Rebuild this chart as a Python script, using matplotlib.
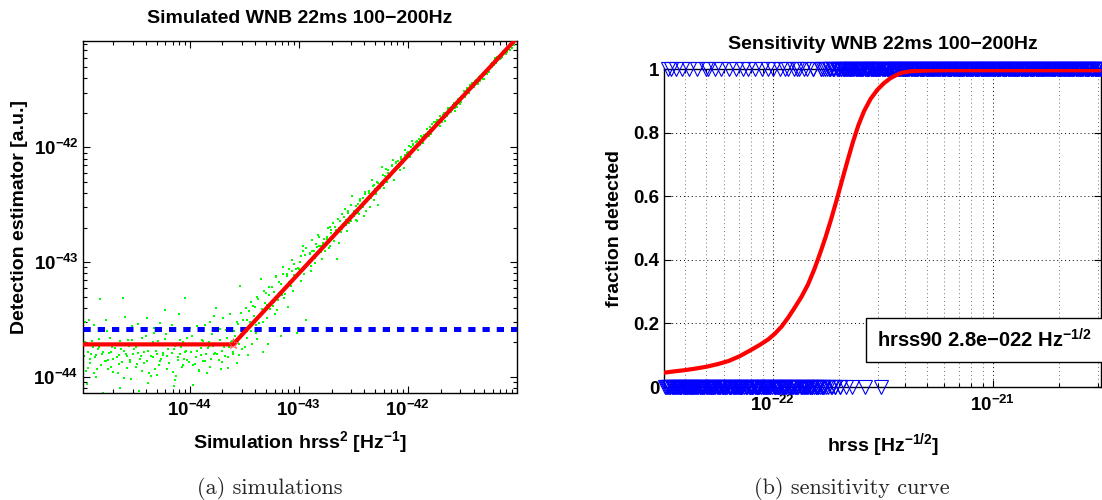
import numpy as np
import matplotlib
matplotlib.use("Agg")
import matplotlib.pyplot as plt
from matplotlib.patches import Rectangle
from matplotlib.ticker import LogLocator, NullFormatter

plt.rcParams['font.family'] = ['Liberation Sans', 'DejaVu Sans']
plt.rcParams['font.weight'] = 'bold'
plt.rcParams['axes.labelweight'] = 'bold'
plt.rcParams['mathtext.fontset'] = 'custom'
plt.rcParams['mathtext.rm'] = 'Liberation Sans:bold'
plt.rcParams['mathtext.it'] = 'Liberation Sans:bold'
plt.rcParams['mathtext.bf'] = 'Liberation Sans:bold'
plt.rcParams['mathtext.default'] = 'rm'

# simulations (log10 hrss^2, log10 estimator)
log_h2 = [
    -44.97, -44.96, -44.95, -44.93, -44.92, -44.91, -44.89, -44.88, -44.87, -44.86, -44.84, -44.83, -44.82, -44.81, -44.80, -44.79, -44.78, -44.77, -44.76, -44.75,
    -44.74, -44.73, -44.72, -44.70, -44.69, -44.68, -44.66, -44.65, -44.64, -44.62, -44.61, -44.60, -44.59, -44.57, -44.56, -44.55, -44.54, -44.53, -44.52, -44.51,
    -44.49, -44.48, -44.47, -44.45, -44.44, -44.43, -44.42, -44.40, -44.39, -44.38, -44.36, -44.35, -44.34, -44.33, -44.31, -44.30, -44.29, -44.28, -44.27, -44.26,
    -44.24, -44.23, -44.21, -44.20, -44.19, -44.18, -44.16, -44.15, -44.14, -44.13, -44.11, -44.10, -44.09, -44.07, -44.06, -44.05, -44.04, -44.03, -44.02, -44.01,
    -43.99, -43.98, -43.97, -43.95, -43.94, -43.93, -43.91, -43.90, -43.89, -43.88, -43.86, -43.85, -43.84, -43.82, -43.81, -43.80, -43.79, -43.78, -43.77, -43.76,
    -43.74, -43.73, -43.72, -43.70, -43.69, -43.68, -43.66, -43.65, -43.64, -43.63, -43.61, -43.60, -43.59, -43.57, -43.56, -43.55, -43.54, -43.53, -43.52, -43.51,
    -43.49, -43.48, -43.47, -43.45, -43.44, -43.43, -43.41, -43.40, -43.39, -43.38, -43.36, -43.35, -43.34, -43.33, -43.31, -43.30, -43.29, -43.28, -43.27, -43.26,
    -43.24, -43.23, -43.21, -43.20, -43.19, -43.18, -43.16, -43.15, -43.14, -43.13, -43.11, -43.10, -43.09, -43.07, -43.06, -43.05, -43.04, -43.03, -43.02, -43.01,
    -42.99, -42.98, -42.96, -42.95, -42.94, -42.93, -42.91, -42.90, -42.89, -42.88, -42.86, -42.85, -42.84, -42.82, -42.81, -42.80, -42.79, -42.78, -42.77, -42.76,
    -42.74, -42.73, -42.71, -42.70, -42.69, -42.68, -42.66, -42.65, -42.64, -42.63, -42.61, -42.60, -42.59, -42.57, -42.56, -42.55, -42.54, -42.53, -42.52, -42.51,
    -42.49, -42.48, -42.46, -42.45, -42.44, -42.43, -42.41, -42.40, -42.39, -42.38, -42.36, -42.35, -42.34, -42.32, -42.31, -42.30, -42.29, -42.28, -42.27, -42.26,
    -42.24, -42.23, -42.21, -42.20, -42.19, -42.18, -42.16, -42.15, -42.14, -42.13, -42.11, -42.10, -42.09, -42.07, -42.06, -42.05, -42.04, -42.03, -42.02, -42.01,
    -41.99, -41.98, -41.96, -41.95, -41.94, -41.93, -41.91, -41.90, -41.89, -41.88, -41.86, -41.85, -41.84, -41.82, -41.81, -41.80, -41.79, -41.78, -41.77, -41.76,
    -41.74, -41.73, -41.71, -41.70, -41.69, -41.68, -41.66, -41.65, -41.64, -41.63, -41.61, -41.60, -41.59, -41.57, -41.56, -41.55, -41.54, -41.53, -41.52, -41.51,
    -41.49, -41.48, -41.46, -41.45, -41.44, -41.43, -41.41, -41.40, -41.39, -41.38, -41.36, -41.35, -41.34, -41.32, -41.31, -41.30, -41.29, -41.28, -41.27, -41.26,
    -41.24, -41.23, -41.21, -41.20, -41.19, -41.18, -41.16, -41.15, -41.14, -41.13, -41.11, -41.10, -41.09, -41.07, -41.06, -41.05, -41.04, -41.03, -41.02, -41.01,
    # second pass over the cloud
    -44.975, -44.955, -44.935, -44.915, -44.895, -44.875, -44.855, -44.835, -44.815, -44.795, -44.775, -44.765, -44.945, -44.905, -44.845,
    -44.745, -44.725, -44.705, -44.685, -44.665, -44.645, -44.625, -44.605, -44.585, -44.565, -44.545, -44.525, -44.715, -44.635, -44.575,
    -44.495, -44.475, -44.455, -44.435, -44.415, -44.395, -44.375, -44.355, -44.335, -44.315, -44.295, -44.275, -44.465, -44.385, -44.325,
    -44.245, -44.225, -44.205, -44.185, -44.165, -44.145, -44.125, -44.105, -44.085, -44.065, -44.045, -44.025, -44.215, -44.135, -44.075,
    -43.995, -43.975, -43.955, -43.935, -43.915, -43.895, -43.875, -43.855, -43.835, -43.815, -43.795, -43.775, -43.965, -43.885, -43.825,
    -43.745, -43.725, -43.705, -43.685, -43.665, -43.645, -43.625, -43.605, -43.585, -43.565, -43.545, -43.525, -43.715, -43.635, -43.555,
    -43.495, -43.475, -43.455, -43.435, -43.415, -43.395, -43.375, -43.355, -43.335, -43.315, -43.295, -43.275, -43.465, -43.385, -43.325,
    -43.245, -43.225, -43.205, -43.185, -43.165, -43.145, -43.125, -43.105, -43.085, -43.065, -43.045, -43.025, -43.215, -43.135, -43.075,
    -42.995, -42.975, -42.955, -42.935, -42.915, -42.895, -42.875, -42.855, -42.835, -42.815, -42.795, -42.775, -42.965, -42.885, -42.825,
    -42.745, -42.725, -42.705, -42.685, -42.665, -42.645, -42.625, -42.605, -42.585, -42.565, -42.545, -42.525, -42.715, -42.635, -42.575,
    -42.495, -42.475, -42.455, -42.435, -42.415, -42.395, -42.375, -42.355, -42.335, -42.315, -42.295, -42.275, -42.465, -42.385, -42.325,
    -42.245, -42.225, -42.205, -42.185, -42.165, -42.145, -42.125, -42.105, -42.085, -42.065, -42.045, -42.025, -42.215, -42.135, -42.075,
    -41.995, -41.975, -41.955, -41.935, -41.915, -41.895, -41.875, -41.855, -41.835, -41.815, -41.795, -41.775, -41.965, -41.885, -41.825,
    -41.745, -41.725, -41.705, -41.685, -41.665, -41.645, -41.625, -41.605, -41.585, -41.565, -41.545, -41.525, -41.715, -41.635, -41.575,
    -41.495, -41.475, -41.455, -41.435, -41.415, -41.395, -41.375, -41.355, -41.335, -41.315, -41.295, -41.275, -41.465, -41.385, -41.325,
    -41.245, -41.225, -41.205, -41.185, -41.165, -41.145, -41.125, -41.105, -41.085, -41.065, -41.045, -41.025, -41.215, -41.135, -41.075,
]
log_est = [
    -43.82, -43.70, -43.95, -43.78, -43.50, -43.88, -43.74, -43.55, -43.83, -44.00, -43.76, -43.67, -43.32, -43.90, -43.80, -44.14, -43.71, -43.86, -43.60, -43.93,
    -43.79, -43.66, -43.91, -43.84, -43.58, -43.75, -43.97, -43.81, -43.69, -43.87, -43.31, -43.77, -43.48, -43.92, -43.73, -43.85, -44.02, -43.68, -43.80, -43.76,
    -43.74, -43.89, -43.54, -43.82, -43.95, -43.71, -43.78, -43.64, -43.86, -44.05, -43.72, -43.99, -43.83, -43.57, -43.77, -43.98, -43.69, -43.90, -43.53, -43.84,
    -43.81, -43.67, -43.93, -43.76, -43.88, -43.59, -43.79, -43.96, -44.08, -43.73, -43.85, -43.45, -43.80, -43.91, -43.70, -43.84, -43.31, -43.77, -43.66, -43.87,
    -43.78, -43.64, -43.90, -43.72, -43.83, -43.56, -43.94, -43.75, -43.68, -43.86, -43.55, -43.80, -43.97, -43.70, -43.52, -43.84, -43.73, -43.47, -43.79, -43.40,
    -43.71, -43.85, -43.58, -43.77, -43.49, -43.82, -43.66, -43.92, -43.74, -43.45, -43.69, -43.80, -43.60, -43.88, -43.54, -43.71, -43.21, -43.63, -43.76, -43.50,
    -43.58, -43.40, -43.66, -43.52, -43.35, -43.71, -43.47, -43.39, -43.62, -43.30, -43.53, -43.15, -43.44, -43.78, -43.36, -43.27, -43.49, -43.71, -43.22, -43.41,
    -43.38, -43.26, -43.12, -43.42, -43.33, -43.17, -43.64, -43.29, -43.10, -43.28, -43.12, -43.39, -43.06, -43.18, -43.08, -43.25, -43.02, -43.14, -43.62, -43.05,
    -43.00, -43.16, -42.90, -43.05, -42.94, -43.50, -42.99, -42.93, -43.08, -42.90, -42.90, -43.01, -42.84, -42.93, -42.86, -42.86, -42.97, -42.84, -42.80, -42.90,
    -42.80, -42.70, -42.86, -42.75, -42.66, -42.82, -42.72, -42.97, -42.62, -42.70, -42.74, -42.58, -42.67, -42.63, -42.73, -42.55, -42.66, -42.60, -42.50, -42.42,
    -42.55, -42.63, -42.49, -42.58, -42.47, -42.53, -42.44, -42.60, -42.41, -42.48, -42.38, -42.52, -42.43, -42.34, -42.46, -42.36, -42.41, -42.30, -42.50, -42.35,
    -42.17, -42.33, -42.25, -42.19, -42.30, -42.22, -42.26, -42.15, -42.21, -42.28, -42.14, -42.18, -42.12, -42.16, -42.08, -42.13, -42.18, -42.02, -42.10, -42.05,
    -41.99, -42.08, -42.03, -41.98, -42.01, -41.95, -42.02, -41.93, -41.97, -41.90, -41.96, -41.89, -41.92, -41.87, -41.90, -41.82, -41.88, -41.80, -41.85, -41.78,
    -41.80, -41.76, -41.81, -41.74, -41.78, -41.72, -41.77, -41.70, -41.73, -41.66, -41.69, -41.67, -41.63, -41.68, -41.62, -41.65, -41.58, -41.61, -41.57, -41.60,
    -41.51, -41.56, -41.50, -41.49, -41.53, -41.46, -41.48, -41.44, -41.47, -41.41, -41.45, -41.39, -41.42, -41.38, -41.35, -41.40, -41.33, -41.36, -41.31, -41.34,
    -41.27, -41.30, -41.25, -41.22, -41.26, -41.21, -41.23, -41.19, -41.21, -41.16, -41.18, -41.14, -41.17, -41.12, -41.10, -41.13, -41.07, -41.10, -41.05, -41.06,
    # second pass over the cloud
    -43.88, -43.52, -43.92, -43.84, -43.69, -43.97, -43.81, -43.74, -43.90, -43.78, -43.86, -43.50, -44.06, -43.80, -43.93,
    -43.85, -43.78, -43.96, -43.71, -43.83, -43.89, -43.76, -44.01, -43.80, -43.68, -43.87, -43.56, -43.74, -44.10, -43.82,
    -43.91, -43.79, -43.84, -43.66, -43.88, -43.49, -43.97, -43.82, -43.70, -43.93, -43.80, -43.86, -44.12, -43.77, -43.62,
    -43.79, -43.42, -43.82, -43.71, -43.55, -43.76, -43.99, -43.83, -43.68, -43.90, -43.78, -43.85, -43.63, -44.03, -43.74,
    -43.57, -43.72, -43.89, -43.77, -43.95, -43.81, -43.69, -43.86, -43.75, -43.91, -43.63, -43.80, -44.07, -43.58, -43.73,
    -43.80, -43.68, -43.87, -43.74, -43.59, -43.83, -43.70, -43.78, -43.64, -43.52, -43.81, -43.44, -43.93, -43.57, -43.69,
    -43.74, -43.50, -43.43, -43.60, -43.38, -43.55, -43.32, -43.46, -43.41, -43.25, -43.37, -43.29, -43.81, -43.67, -43.52,
    -43.22, -43.35, -43.13, -43.27, -43.19, -43.04, -43.23, -43.10, -43.17, -42.98, -43.11, -43.06, -43.45, -43.31, -43.21,
    -43.06, -42.95, -43.10, -42.88, -43.02, -42.92, -42.81, -42.96, -42.87, -42.78, -42.91, -42.83, -42.86, -43.03, -42.76,
    -42.78, -42.88, -42.72, -42.79, -42.69, -42.75, -42.64, -42.71, -42.61, -42.68, -42.57, -42.64, -42.69, -42.83, -42.54,
    -42.60, -42.51, -42.57, -42.45, -42.52, -42.39, -42.47, -42.40, -42.44, -42.33, -42.39, -42.31, -42.64, -42.55, -42.28,
    -42.31, -42.24, -42.28, -42.20, -42.24, -42.16, -42.20, -42.13, -42.17, -42.10, -42.14, -42.07, -42.35, -42.11, -42.20,
    -42.04, -42.00, -41.97, -42.00, -41.94, -41.96, -41.91, -41.93, -41.88, -41.90, -41.85, -41.86, -41.94, -41.98, -41.84,
    -41.78, -41.79, -41.73, -41.75, -41.70, -41.72, -41.66, -41.69, -41.64, -41.66, -41.60, -41.62, -41.76, -41.67, -41.61,
    -41.55, -41.52, -41.48, -41.50, -41.44, -41.46, -41.41, -41.43, -41.38, -41.40, -41.34, -41.36, -41.53, -41.42, -41.37,
    -41.30, -41.26, -41.24, -41.25, -41.20, -41.22, -41.17, -41.19, -41.14, -41.15, -41.10, -41.11, -41.28, -41.20, -41.12,
]

# broken-line fit and detection threshold (left panel)
fit_h2 = [10**-44.98, 2.5e-44, 1.0e-41]
fit_est = [1.92e-44, 1.92e-44, 9.0e-42]
knee_h2 = 2.5e-44
knee_est = 1.92e-44
threshold = 2.6e-44

# fitted efficiency curve (right panel), log10 hrss vs fraction
curve_loghrss = [-22.494, -22.45, -22.40, -22.35, -22.30, -22.25, -22.20, -22.15, -22.10, -22.06,
                 -22.02, -21.99, -21.96, -21.93, -21.90, -21.87, -21.84, -21.81, -21.785, -21.76,
                 -21.735, -21.71, -21.685, -21.66, -21.635, -21.61, -21.585, -21.555, -21.525, -21.495,
                 -21.465, -21.435, -21.41, -21.37, -21.30, -21.20, -20.508]
curve_frac = [0.045, 0.049, 0.053, 0.058, 0.064, 0.072, 0.082, 0.097, 0.116, 0.132,
              0.150, 0.168, 0.190, 0.218, 0.250, 0.283, 0.322, 0.372, 0.420, 0.471,
              0.527, 0.587, 0.650, 0.712, 0.772, 0.825, 0.868, 0.907, 0.935, 0.956,
              0.972, 0.983, 0.990, 0.994, 0.996, 0.997, 0.997]
hrss90_label = 'hrss90 2.8e\u2212022 Hz$^{-1/2}$'

h2 = 10.0 ** np.array(log_h2)
est = 10.0 ** np.array(log_est)
hrss = np.sqrt(h2)
found = est > threshold

W, H = 1102, 500
fig = plt.figure(figsize=(W / 100, H / 100), dpi=100)

def px_axes(left, right, top, bottom):
    return fig.add_axes([left / W, 1 - bottom / H, (right - left) / W, (bottom - top) / H])

def style(ax):
    for s in ax.spines.values():
        s.set_linewidth(1.0)
    ax.tick_params(which='both', direction='in', top=True, right=True, width=0.8, labelsize=13.5)
    ax.tick_params(which='major', length=5)
    ax.tick_params(which='minor', length=3)

def dec_label(v):
    return r'$10^{%d}$' % int(round(np.log10(v)))

# ---- (a) simulations
ax1 = px_axes(82.7, 517, 40.7, 392.5)
ax1.set_xscale('log')
ax1.set_yscale('log')
ax1.plot(h2, est, 's', color=(0, 1, 0), ms=1.8, mew=0, zorder=2)
ax1.axhline(threshold, color=(0, 0, 1), lw=3.6, dashes=(1.45, 1.4), zorder=3)
ax1.plot(fit_h2, fit_est, color='r', lw=3, zorder=4)
ax1.plot([knee_h2], [knee_est], '*', color=(1, 0.3, 0.3), ms=8, mew=0.6, mfc='none', zorder=5)
ax1.set_xlim(10**-44.98, 10**-41.0)
ax1.set_ylim(10**-44.136, 10**-41.07)
xt = [1e-44, 1e-43, 1e-42]
ax1.set_xticks(xt, [dec_label(v) for v in xt])
ax1.set_yticks(xt, [dec_label(v) for v in xt])
for axis in (ax1.xaxis, ax1.yaxis):
    axis.set_minor_locator(LogLocator(base=10, subs=np.arange(2, 10), numticks=20))
    axis.set_minor_formatter(NullFormatter())
style(ax1)
ax1.tick_params(axis='x', pad=5)
ax1.tick_params(axis='y', pad=3)
ax1.set_xlabel('Simulation hrss$^2$ [Hz$^{-1}$]', fontsize=14)
ax1.set_ylabel('Detection estimator [a.u.]', fontsize=14)
ax1.xaxis.set_label_coords(0.5, -0.105)
ax1.yaxis.set_label_coords(-0.126, 0.5)
ax1.text(0.5, 1.0617, 'Simulated WNB 22ms 100\u2212200Hz', transform=ax1.transAxes,
         ha='center', va='center', fontsize=14)

# ---- (b) sensitivity curve
ax2 = px_axes(664, 1101, 69.3, 387)
ax2.set_xscale('log')
ax2.set_axisbelow(True)
ax2.grid(True, which='major', linestyle=(0, (1, 3)), color='k', lw=0.7)
ax2.grid(True, which='minor', axis='x', linestyle=(0, (1, 3)), color='0.45', lw=0.7)
ax2.plot(hrss[found], np.ones(found.sum()), 'v', color=(0, 0, 1), mfc='none',
         ms=9.5, mew=0.8, clip_on=False, zorder=3)
ax2.plot(hrss[~found], np.zeros((~found).sum()), 'v', color=(0, 0, 1), mfc='none',
         ms=9.5, mew=0.8, clip_on=False, zorder=3)
ax2.plot(10.0 ** np.array(curve_loghrss), curve_frac, color='r', lw=3, zorder=4)
ax2.set_xlim(10**-22.494, 10**-20.508)
ax2.set_ylim(0, 1)
xt2 = [1e-22, 1e-21]
ax2.set_xticks(xt2, [dec_label(v) for v in xt2])
ax2.xaxis.set_minor_locator(LogLocator(base=10, subs=np.arange(2, 10), numticks=20))
ax2.xaxis.set_minor_formatter(NullFormatter())
ax2.set_yticks([0, 0.2, 0.4, 0.6, 0.8, 1], ['0', '0.2', '0.4', '0.6', '0.8', '1'])
style(ax2)
ax2.tick_params(axis='x', pad=6)
ax2.tick_params(axis='y', pad=3.5)
ax2.set_xlabel('hrss [Hz$^{-1/2}$]', fontsize=14)
ax2.set_ylabel('fraction detected', fontsize=14)
ax2.xaxis.set_label_coords(0.5, -0.14)
ax2.yaxis.set_label_coords(-0.094, 0.5)
ax2.text(0.5, 1.0765, 'Sensitivity WNB 22ms 100\u2212200Hz', transform=ax2.transAxes,
         ha='center', va='center', fontsize=14)
box = Rectangle((0.462, 0.080), 0.6, 0.137, transform=ax2.transAxes, fc='white', ec='k',
                lw=1.0, clip_on=False, zorder=5)
ax2.add_patch(box)
ax2.text(0.487, 0.148, hrss90_label, transform=ax2.transAxes, ha='left', va='center',
         fontsize=14.5, zorder=6)

# captions
fig.text(270 / W, 1 - 488 / H, '(a) simulations', fontfamily='cmr10', fontweight='normal',
         fontsize=16, ha='center', va='center', color='0.15')
fig.text(852 / W, 1 - 488 / H, '(b) sensitivity curve', fontfamily='cmr10', fontweight='normal',
         fontsize=16, ha='center', va='center', color='0.15')

fig.savefig('out.png', dpi=100)
